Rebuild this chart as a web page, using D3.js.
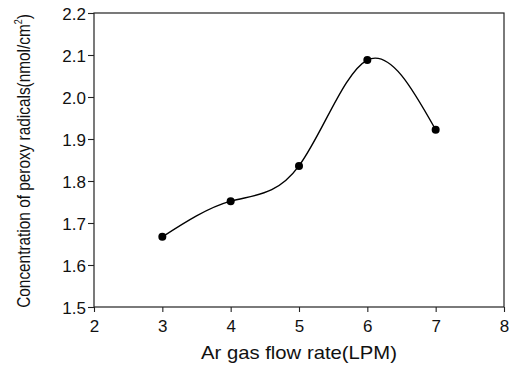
<!DOCTYPE html>
<html><head><meta charset="utf-8">
<script src="https://cdn.jsdelivr.net/npm/d3@7"></script>
<style>body{margin:0;background:#fff}svg{display:block}text{font-family:"Liberation Sans",Arial,sans-serif;fill:#111}</style>
</head><body><svg id="c" width="515" height="368"></svg>
<script>
const flowRate = [3, 4, 5, 6, 7];
const peroxy = [1.667, 1.752, 1.836, 2.088, 1.922];
const xTicks = [2, 3, 4, 5, 6, 7, 8];
const yTicks = [1.5, 1.6, 1.7, 1.8, 1.9, 2.0, 2.1, 2.2];
const xTitle = "Ar gas flow rate(LPM)";
const yTitle = "Concentration of peroxy radicals(nmol/cm";

const svg = d3.select("#c");
const L = 94, R = 504, T = 13, B = 307;
const x = d3.scaleLinear().domain([2, 8]).range([L, R]);
const y = d3.scaleLinear().domain([1.5, 2.2]).range([B, T]);

svg.append("rect").attr("x", L).attr("y", T).attr("width", R - L).attr("height", B - T)
  .attr("fill", "none").attr("stroke", "#222").attr("stroke-width", 1.2);

const xa = svg.append("g").attr("transform", `translate(0,${B})`)
  .call(d3.axisBottom(x).tickValues(xTicks).tickFormat(d3.format("d")).tickSize(5).tickSizeOuter(0));
const ya = svg.append("g").attr("transform", `translate(${L},0)`)
  .call(d3.axisLeft(y).tickValues(yTicks).tickFormat(d3.format(".1f")).tickSize(6).tickSizeOuter(0));
[xa, ya].forEach(a => {
  a.select(".domain").remove();
  a.selectAll("line").attr("stroke", "#222").attr("stroke-width", 1.1);
  a.selectAll("text").attr("font-size", 17).attr("fill", "#111")
   .attr("font-family", "'Liberation Sans',Arial,sans-serif");
});
xa.selectAll("text").attr("dy", null).attr("y", 25);
ya.selectAll("text").attr("x", -8).attr("dy", "0.36em");

const line = d3.line().x((d, i) => x(flowRate[i])).y(d => y(d)).curve(d3.curveNatural);
svg.append("path").datum(peroxy).attr("d", line).attr("fill", "none")
  .attr("stroke", "#000").attr("stroke-width", 1.4);
svg.selectAll("circle.p").data(peroxy).enter().append("circle")
  .attr("cx", (d, i) => x(flowRate[i])).attr("cy", d => y(d)).attr("r", 4).attr("fill", "#000");

const xt = svg.append("text").attr("x", (L + R) / 2).attr("y", 359).attr("text-anchor", "middle")
  .attr("font-size", 19).text(xTitle);
xt.attr("textLength", 196).attr("lengthAdjust", "spacingAndGlyphs");

const yt = svg.append("text").attr("transform", `translate(30,${(T + B) / 2 + 1}) rotate(-90)`)
  .attr("text-anchor", "middle").attr("font-size", 19);
yt.append("tspan").text(yTitle);
yt.append("tspan").attr("font-size", 11).attr("dy", -8).text("2");
yt.append("tspan").attr("dy", 8).text(")");
const w = yt.node().getComputedTextLength();
const target = 294;
yt.attr("transform", `translate(30,${(T + B) / 2 + 1}) rotate(-90) scale(${target / w},1)`);
</script></body></html>
